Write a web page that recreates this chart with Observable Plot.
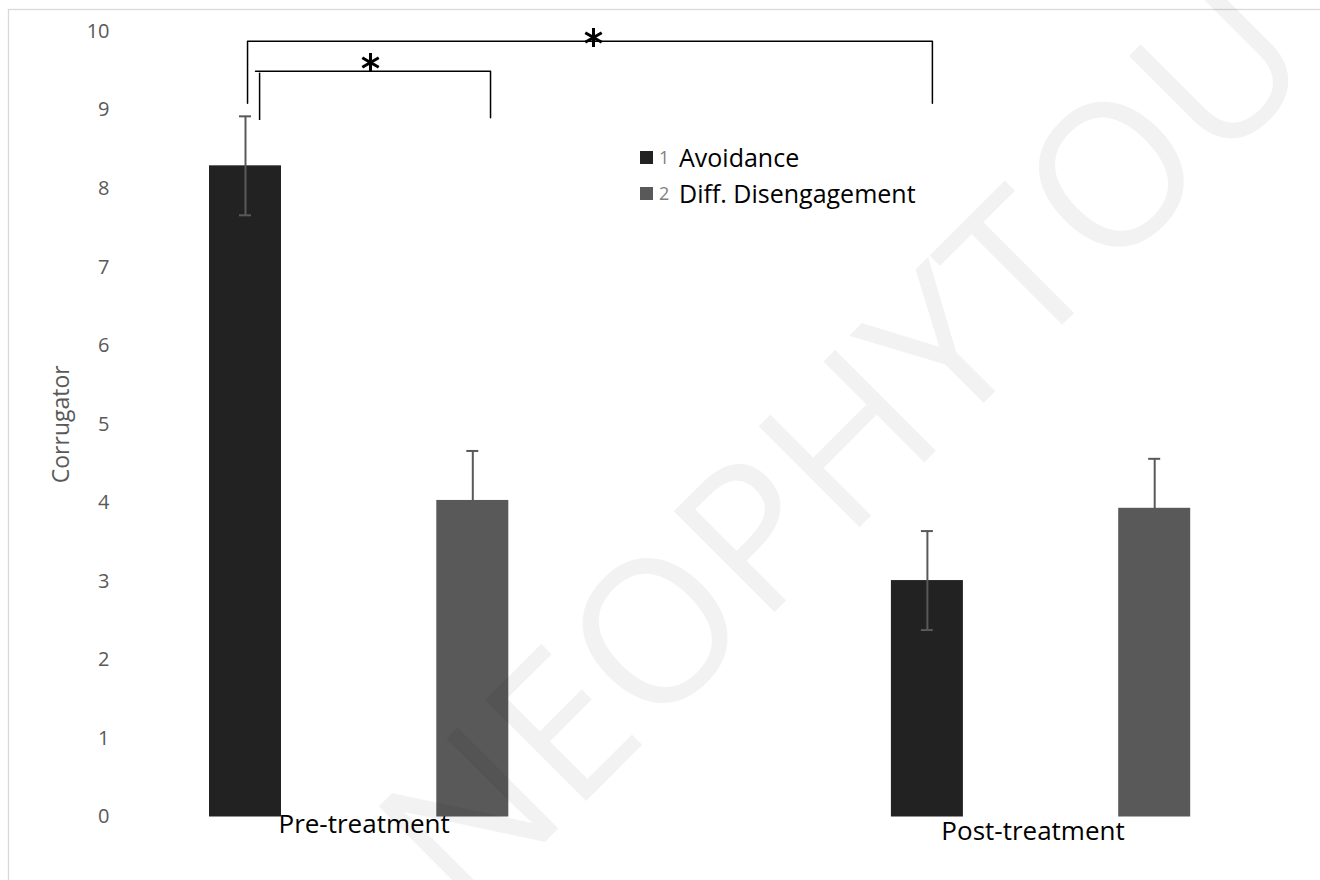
<!DOCTYPE html>
<html><head><meta charset="utf-8">
<script src="https://cdn.jsdelivr.net/npm/d3@7"></script>
<script src="https://cdn.jsdelivr.net/npm/@observablehq/plot@0.6"></script>
<style>
html,body{margin:0;padding:0;background:#fff;overflow:hidden;}
#wrap{position:relative;width:1320px;height:880px;font-family:"Open Sans",sans-serif;}
#wrap svg{position:absolute;left:0;top:0;}
#legend{position:absolute;left:640px;top:139px;}
.row{display:flex;align-items:center;height:36px;}
.sw{width:13px;height:13px;margin-right:6px;}
.num{font-size:18px;color:#7f7f7f;width:20px;}
.lab{font-size:25px;color:#000;white-space:nowrap;}
</style></head><body><div id="wrap"></div>
<script>
// ---- data ----
const categories = ["Pre-treatment", "Post-treatment"];
const series = ["Avoidance", "Diff. Disengagement"];
const avoidanceMeans = [8.29, 3.01];
const disengagementMeans = [4.03, 3.93];
const avoidanceErr = [0.63, 0.63];
const disengagementErr = [0.63, 0.63];
const yTicks = [0, 1, 2, 3, 4, 5, 6, 7, 8, 9, 10];
const seriesColors = ["#222222", "#595959"];
// significance brackets (data units: x = bar slot, y = Corrugator)
const outerBracket = [{x: 0.009, y: 9.087}, {x: 0.009, y: 9.876}, {x: 3.022, y: 9.876}, {x: 3.022, y: 9.087}];
const innerBracket = [{x: 0.044, y: 9.494}, {x: 1.078, y: 9.494}, {x: 1.078, y: 8.901}];
const innerLeftTick = [{x: 0.062, y1: 8.867, y2: 9.47}];
const stars = [{x: 1.531, y: 9.924}, {x: 0.55, y: 9.605}];

// ---- table ----
const meansBySeries = [avoidanceMeans, disengagementMeans];
const errBySeries = [avoidanceErr, disengagementErr];
const rows = [];
categories.forEach((c, ci) => series.forEach((s, si) => {
  rows.push({category: c, series: s, mean: meansBySeries[si][ci], err: errBySeries[si][ci], pos: ci * 3 + si});
}));

const step = 227.3;
const hw = 36 / step;     // half bar width (slot units)
const cap = 6 / step;     // half cap width
const ink = "#595959";

const chart = Plot.plot({
  width: 1320, height: 880,
  marginTop: 31, marginBottom: 63.5, marginLeft: 115, marginRight: 0,
  style: {fontFamily: '"Open Sans", sans-serif', background: "transparent", overflow: "visible"},
  x: {domain: [-1, 5], range: [245 - step, 245 + 5 * step], axis: null},
  y: {domain: [0, 10], axis: null},
  color: {domain: series, range: seriesColors},
  marks: [
    Plot.axisY({ticks: yTicks, tickSize: 0, tickPadding: 6, fontSize: 20, fill: ink, label: null, tickFormat: d => String(d)}),
    Plot.text(["Corrugator"], {frameAnchor: "left", textAnchor: "middle", rotate: -90, dx: -54, fontSize: 23, fill: ink}),
    Plot.rect(rows, {x1: d => d.pos - hw, x2: d => d.pos + hw, y1: 0, y2: "mean", fill: "series"}),
    Plot.ruleX(rows, {x: "pos", y1: d => d.mean - d.err, y2: d => d.mean + d.err, stroke: ink, strokeWidth: 2}),
    Plot.ruleY(rows, {y: d => d.mean + d.err, x1: d => d.pos - cap, x2: d => d.pos + cap, stroke: ink, strokeWidth: 2}),
    Plot.ruleY(rows, {y: d => d.mean - d.err, x1: d => d.pos - cap, x2: d => d.pos + cap, stroke: ink, strokeWidth: 2}),
    Plot.text([categories[0]], {x: () => 0.5, y: () => 0, dx: 5, dy: 8, fontSize: 26, fill: "#000", lineAnchor: "middle"}),
    Plot.text([categories[1]], {x: () => 3.5, y: () => 0, dx: -8, dy: 15, fontSize: 26, fill: "#000", lineAnchor: "middle"}),
    Plot.line(outerBracket, {x: "x", y: "y", stroke: "#000", strokeWidth: 1.5}),
    Plot.line(innerBracket, {x: "x", y: "y", stroke: "#000", strokeWidth: 1.5}),
    Plot.ruleX(innerLeftTick, {x: "x", y1: "y1", y2: "y2", stroke: "#000", strokeWidth: 1.5}),
    Plot.dot(stars, {x: "x", y: "y", symbol: "asterisk", r: 9, stroke: "#000", strokeWidth: 3})
  ]
});

const svg = d3.select(chart);
svg.append("rect").attr("x", 8.5).attr("y", 9.5).attr("width", 1400).attr("height", 1000)
  .attr("fill", "none").attr("stroke", "#d9d9d9").attr("stroke-width", 1.3);
svg.append("text").text("NEOPHYTOU")
  .attr("transform", "translate(842,443) rotate(-45)")
  .attr("text-anchor", "middle").attr("dy", "0.36em")
  .attr("font-family", '"Open Sans", sans-serif').attr("font-size", 200)
  .attr("fill", "#000").attr("fill-opacity", 0.05);

const wrap = document.getElementById("wrap");
wrap.appendChild(chart);

const legend = document.createElement("div");
legend.id = "legend";
series.forEach((s, i) => {
  const row = document.createElement("div");
  row.className = "row";
  row.innerHTML = `<div class="sw" style="background:${seriesColors[i]}"></div><span class="num">${i + 1}</span><span class="lab">${s}</span>`;
  legend.appendChild(row);
});
wrap.appendChild(legend);
</script></body></html>
